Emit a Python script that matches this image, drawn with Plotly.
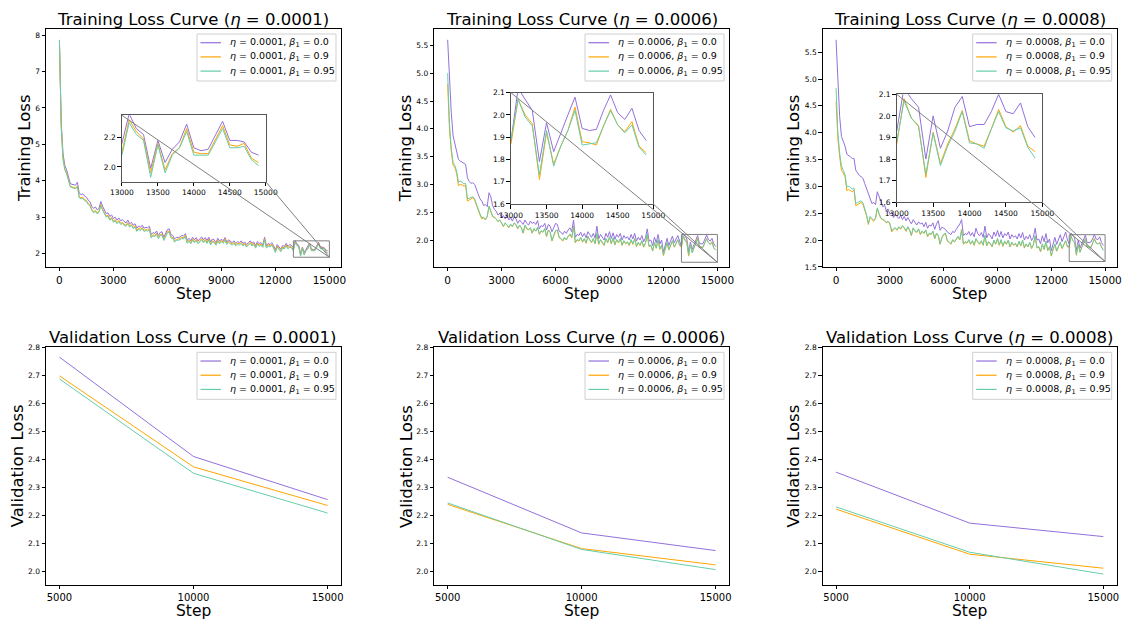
import plotly.graph_objects as go

# ---------------- data ----------------
steps = list(range(0, 15000, 100))
val_steps = [5000, 10000, 15000]
lrs = ["0.0001", "0.0006", "0.0008"]
betas = ["0.0", "0.9", "0.95"]
colors = ["#9370DB", "#FFA500", "#66CDAA"]

train_lr1_b00 = [
    7.83, 5.60, 4.75, 4.42, 4.30, 4.12, 3.93, 3.90, 3.90, 3.88,
    3.96, 3.66, 3.62, 3.64, 3.58, 3.55, 3.47, 3.42, 3.30, 3.24,
    3.28, 3.20, 3.24, 3.43, 3.30, 3.18, 3.10, 3.12, 3.02, 3.06,
    2.96, 3.00, 2.92, 2.98, 2.90, 2.93, 2.87, 2.84, 2.92, 2.82,
    2.86, 2.78, 2.82, 2.70, 2.76, 2.72, 2.78, 2.70, 2.72, 2.71,
    2.75, 2.52, 2.58, 2.55, 2.62, 2.50, 2.58, 2.60, 2.45, 2.55,
    2.66, 2.68, 2.52, 2.50, 2.40, 2.45, 2.44, 2.46, 2.50, 2.48,
    2.55, 2.36, 2.42, 2.35, 2.45, 2.38, 2.44, 2.35, 2.40, 2.46,
    2.38, 2.44, 2.36, 2.45, 2.32, 2.40, 2.38, 2.30, 2.42, 2.34,
    2.40, 2.35, 2.44, 2.32, 2.38, 2.34, 2.30, 2.35, 2.28, 2.33,
    2.30, 2.35, 2.28, 2.32, 2.25, 2.30, 2.35, 2.28, 2.32, 2.22,
    2.33, 2.27, 2.30, 2.24, 2.45, 2.22, 2.28, 2.25, 2.30, 2.22,
    2.10, 2.25, 2.18, 2.12, 2.22, 2.20, 2.28, 2.20, 2.25, 2.22,
    2.16, 2.36, 2.26, 2.22, 1.99, 2.18, 2.03, 2.12, 2.17, 2.29,
    2.13, 2.11, 2.12, 2.21, 2.31, 2.18, 2.18, 2.17, 2.10, 2.08,
]
train_lr1_b09 = [
    7.85, 5.50, 4.62, 4.33, 4.22, 4.05, 3.86, 3.83, 3.82, 3.80,
    3.86, 3.56, 3.53, 3.55, 3.48, 3.46, 3.38, 3.33, 3.22, 3.15,
    3.19, 3.12, 3.16, 3.35, 3.22, 3.10, 3.03, 3.05, 2.95, 2.99,
    2.89, 2.93, 2.85, 2.91, 2.83, 2.86, 2.80, 2.78, 2.85, 2.76,
    2.80, 2.72, 2.76, 2.64, 2.70, 2.66, 2.72, 2.64, 2.66, 2.65,
    2.69, 2.46, 2.52, 2.49, 2.56, 2.44, 2.52, 2.54, 2.39, 2.49,
    2.60, 2.62, 2.46, 2.44, 2.35, 2.39, 2.39, 2.41, 2.45, 2.43,
    2.50, 2.31, 2.37, 2.30, 2.40, 2.33, 2.39, 2.30, 2.35, 2.41,
    2.33, 2.39, 2.31, 2.40, 2.27, 2.35, 2.33, 2.26, 2.37, 2.30,
    2.36, 2.31, 2.40, 2.28, 2.34, 2.30, 2.26, 2.31, 2.24, 2.29,
    2.26, 2.31, 2.24, 2.28, 2.21, 2.26, 2.31, 2.24, 2.28, 2.18,
    2.29, 2.23, 2.26, 2.20, 2.41, 2.18, 2.24, 2.21, 2.26, 2.18,
    2.06, 2.21, 2.14, 2.08, 2.18, 2.16, 2.24, 2.16, 2.21, 2.18,
    2.10, 2.32, 2.24, 2.19, 1.96, 2.16, 1.98, 2.09, 2.13, 2.26,
    2.10, 2.09, 2.09, 2.18, 2.28, 2.15, 2.14, 2.16, 2.06, 2.03,
]
train_lr1_b095 = [
    7.87, 5.45, 4.58, 4.30, 4.19, 4.02, 3.84, 3.81, 3.80, 3.78,
    3.84, 3.53, 3.50, 3.52, 3.45, 3.43, 3.35, 3.30, 3.19, 3.12,
    3.16, 3.09, 3.13, 3.32, 3.19, 3.07, 3.00, 3.02, 2.92, 2.96,
    2.86, 2.90, 2.82, 2.88, 2.80, 2.83, 2.77, 2.75, 2.82, 2.73,
    2.77, 2.69, 2.73, 2.61, 2.67, 2.63, 2.69, 2.61, 2.63, 2.62,
    2.66, 2.43, 2.49, 2.46, 2.53, 2.41, 2.49, 2.51, 2.36, 2.46,
    2.57, 2.59, 2.43, 2.41, 2.32, 2.36, 2.36, 2.38, 2.42, 2.40,
    2.47, 2.28, 2.34, 2.27, 2.37, 2.30, 2.36, 2.27, 2.32, 2.38,
    2.30, 2.36, 2.28, 2.37, 2.24, 2.32, 2.30, 2.23, 2.34, 2.27,
    2.33, 2.28, 2.37, 2.25, 2.31, 2.27, 2.23, 2.28, 2.21, 2.26,
    2.23, 2.28, 2.21, 2.25, 2.18, 2.23, 2.28, 2.21, 2.25, 2.15,
    2.26, 2.20, 2.23, 2.17, 2.38, 2.15, 2.21, 2.18, 2.23, 2.15,
    2.03, 2.18, 2.11, 2.05, 2.15, 2.13, 2.21, 2.13, 2.18, 2.15,
    2.08, 2.30, 2.22, 2.18, 1.93, 2.15, 1.96, 2.08, 2.13, 2.24,
    2.08, 2.08, 2.08, 2.17, 2.26, 2.13, 2.13, 2.14, 2.05, 2.01,
]

train_lr6_b00 = [
    5.60, 4.90, 4.30, 3.88, 3.72, 3.58, 3.45, 3.42, 3.40, 3.38,
    3.36, 3.12, 3.05, 3.02, 3.03, 3.00, 2.90, 2.82, 2.74, 2.70,
    2.62, 2.64, 2.60, 2.85, 2.78, 2.62, 2.55, 2.52, 2.45, 2.48,
    2.40, 2.44, 2.38, 2.45, 2.36, 2.40, 2.34, 2.42, 2.38, 2.30,
    2.36, 2.32, 2.28, 2.36, 2.30, 2.27, 2.34, 2.30, 2.32, 2.28,
    2.35, 2.20, 2.26, 2.24, 2.30, 2.18, 2.28, 2.25, 2.15, 2.22,
    2.30, 2.28, 2.16, 2.14, 2.10, 2.16, 2.12, 2.18, 2.22, 2.15,
    2.36, 2.05, 2.10, 2.08, 2.14, 2.06, 2.12, 2.04, 2.15, 2.10,
    2.05, 2.12, 2.03, 2.25, 2.02, 2.10, 2.06, 2.00, 2.12, 2.05,
    2.15, 2.03, 2.13, 2.01, 2.10, 2.05, 2.12, 2.00, 2.08, 2.03,
    2.06, 2.00, 2.10, 2.02, 2.12, 1.98, 2.05, 2.00, 2.08, 1.97,
    2.04, 2.20, 1.98, 2.00, 1.90, 2.05, 1.95, 2.10, 1.93, 2.00,
    1.78, 1.92, 2.03, 1.90, 1.98, 2.07, 1.95, 2.03, 2.08, 1.98,
    1.88, 2.12, 2.07, 2.02, 1.79, 1.965, 1.835, 1.92, 2.00, 2.08,
    1.94, 1.93, 1.935, 2.02, 2.09, 2.01, 1.98, 2.03, 1.93, 1.885,
]
train_lr6_b09 = [
    4.80, 4.00, 3.60, 3.35, 3.30, 3.20, 2.98, 3.00, 2.99, 2.97,
    2.98, 2.70, 2.72, 2.74, 2.76, 2.72, 2.62, 2.52, 2.45, 2.38,
    2.40, 2.36, 2.42, 2.60, 2.50, 2.42, 2.40, 2.38, 2.33, 2.36,
    2.30, 2.24, 2.30, 2.27, 2.22, 2.28, 2.24, 2.30, 2.27, 2.20,
    2.26, 2.22, 2.12, 2.26, 2.20, 2.18, 2.22, 2.12, 2.20, 2.16,
    2.22, 2.10, 2.16, 2.14, 2.20, 2.06, 2.18, 2.14, 1.98, 2.08,
    2.16, 2.18, 2.04, 2.02, 1.98, 2.04, 2.00, 2.06, 2.10, 2.04,
    2.25, 1.95, 2.00, 1.98, 2.04, 1.96, 2.02, 1.94, 2.06, 2.00,
    1.95, 2.02, 1.93, 2.12, 1.92, 2.00, 1.96, 1.90, 2.02, 1.95,
    2.05, 1.93, 2.03, 1.91, 2.00, 1.95, 2.02, 1.90, 1.98, 1.93,
    1.96, 1.90, 2.00, 1.92, 2.02, 1.88, 1.95, 1.90, 1.98, 1.87,
    1.94, 2.10, 1.88, 1.90, 1.80, 1.95, 1.85, 2.00, 1.83, 1.90,
    1.72, 1.84, 1.95, 1.82, 1.90, 1.98, 1.87, 1.95, 2.00, 1.90,
    1.87, 2.07, 2.00, 1.96, 1.71, 1.92, 1.78, 1.86, 1.93, 2.035,
    1.88, 1.875, 1.865, 1.95, 2.025, 1.955, 1.925, 1.97, 1.86, 1.83,
]
train_lr6_b095 = [
    5.00, 4.10, 3.65, 3.40, 3.34, 3.24, 3.04, 3.06, 3.04, 3.01,
    3.02, 2.74, 2.75, 2.77, 2.78, 2.74, 2.64, 2.54, 2.47, 2.40,
    2.41, 2.37, 2.43, 2.61, 2.51, 2.43, 2.41, 2.38, 2.33, 2.36,
    2.31, 2.25, 2.31, 2.27, 2.23, 2.29, 2.24, 2.31, 2.28, 2.21,
    2.27, 2.22, 2.13, 2.27, 2.21, 2.19, 2.22, 2.13, 2.21, 2.16,
    2.23, 2.11, 2.17, 2.14, 2.21, 2.07, 2.18, 2.15, 1.99, 2.09,
    2.17, 2.18, 2.05, 2.03, 1.99, 2.05, 2.00, 2.07, 2.11, 2.05,
    2.24, 1.96, 2.01, 1.99, 2.05, 1.97, 2.03, 1.95, 2.07, 2.01,
    1.96, 2.03, 1.94, 2.13, 1.93, 2.01, 1.97, 1.91, 2.03, 1.96,
    2.06, 1.94, 2.04, 1.92, 2.01, 1.96, 2.03, 1.91, 1.99, 1.94,
    1.97, 1.91, 2.01, 1.93, 2.03, 1.89, 1.96, 1.91, 1.99, 1.88,
    1.95, 2.11, 1.89, 1.91, 1.81, 1.96, 1.86, 2.01, 1.84, 1.91,
    1.73, 1.85, 1.96, 1.83, 1.91, 1.99, 1.88, 1.96, 2.01, 1.91,
    1.89, 2.07, 1.99, 1.95, 1.73, 1.93, 1.77, 1.86, 1.93, 2.02,
    1.865, 1.87, 1.875, 1.95, 2.02, 1.955, 1.92, 1.955, 1.855, 1.82,
]

train_lr8_b00 = [
    5.73, 4.95, 4.30, 3.93, 3.85, 3.75, 3.60, 3.58, 3.55, 3.52,
    3.52, 3.30, 3.25, 3.20, 3.18, 3.15, 3.05, 2.95, 2.85, 2.75,
    2.68, 2.70, 2.66, 2.90, 2.82, 2.72, 2.62, 2.65, 2.55, 2.58,
    2.48, 2.52, 2.42, 2.48, 2.44, 2.40, 2.46, 2.38, 2.44, 2.36,
    2.42, 2.35, 2.30, 2.38, 2.32, 2.28, 2.34, 2.30, 2.32, 2.25,
    2.33, 2.22, 2.28, 2.26, 2.32, 2.20, 2.30, 2.36, 2.18, 2.24,
    2.22, 2.20, 2.15, 2.12, 2.10, 2.16, 2.14, 2.20, 2.24, 2.30,
    2.38, 2.08, 2.12, 2.10, 2.16, 2.08, 2.14, 2.06, 2.22, 2.12,
    2.08, 2.14, 2.05, 2.26, 2.04, 2.12, 2.08, 2.02, 2.15, 2.07,
    2.18, 2.06, 2.16, 2.04, 2.12, 2.08, 2.15, 2.02, 2.10, 2.05,
    2.08, 2.02, 2.12, 2.04, 2.14, 2.00, 2.07, 2.02, 2.10, 1.99,
    2.05, 2.22, 2.00, 2.02, 1.93, 2.08, 1.97, 2.12, 1.95, 2.02,
    1.80, 1.95, 2.05, 1.92, 2.00, 2.10, 1.97, 2.05, 2.15, 2.00,
    1.93, 2.13, 2.08, 2.04, 1.80, 2.00, 1.85, 1.93, 2.04, 2.09,
    1.95, 1.96, 1.96, 2.02, 2.10, 2.02, 2.01, 2.06, 1.95, 1.90,
]
train_lr8_b09 = [
    4.58, 3.90, 3.55, 3.30, 3.25, 3.18, 2.92, 2.94, 2.92, 2.90,
    2.93, 2.64, 2.66, 2.68, 2.70, 2.66, 2.55, 2.45, 2.29, 2.42,
    2.38, 2.35, 2.40, 2.58, 2.48, 2.40, 2.38, 2.36, 2.32, 2.34,
    2.30, 2.15, 2.20, 2.22, 2.18, 2.24, 2.20, 2.26, 2.22, 2.16,
    2.24, 2.18, 2.08, 2.22, 2.16, 2.14, 2.20, 2.10, 2.16, 2.12,
    2.18, 2.06, 2.12, 2.10, 2.16, 2.02, 2.12, 2.08, 1.92, 2.04,
    2.10, 2.12, 1.98, 1.96, 1.92, 2.00, 1.96, 2.02, 2.06, 2.00,
    2.20, 1.92, 1.96, 1.94, 2.00, 1.92, 1.98, 1.90, 2.02, 1.96,
    1.92, 1.98, 1.90, 2.08, 1.89, 1.96, 1.93, 1.87, 1.99, 1.92,
    2.02, 1.90, 2.00, 1.88, 1.97, 1.92, 1.99, 1.87, 1.95, 1.90,
    1.93, 1.87, 1.97, 1.89, 1.99, 1.85, 1.92, 1.87, 1.95, 1.84,
    1.91, 2.07, 1.85, 1.87, 1.78, 1.92, 1.82, 1.97, 1.80, 1.87,
    1.70, 1.82, 1.92, 1.79, 1.87, 1.95, 1.84, 1.92, 1.98, 1.87,
    1.87, 2.08, 1.99, 1.955, 1.715, 1.925, 1.78, 1.87, 1.94, 2.025,
    1.885, 1.87, 1.86, 1.94, 2.03, 1.95, 1.925, 1.955, 1.86, 1.835,
]
train_lr8_b095 = [
    4.83, 4.00, 3.62, 3.38, 3.30, 3.22, 2.99, 3.00, 2.98, 2.95,
    2.97, 2.68, 2.70, 2.71, 2.73, 2.69, 2.58, 2.47, 2.31, 2.44,
    2.40, 2.37, 2.41, 2.60, 2.49, 2.41, 2.39, 2.37, 2.33, 2.35,
    2.31, 2.17, 2.21, 2.23, 2.19, 2.25, 2.21, 2.27, 2.23, 2.17,
    2.25, 2.19, 2.09, 2.23, 2.17, 2.15, 2.21, 2.11, 2.17, 2.13,
    2.19, 2.07, 2.13, 2.11, 2.17, 2.03, 2.13, 2.09, 1.93, 2.05,
    2.11, 2.13, 1.99, 1.97, 1.93, 2.01, 1.97, 2.03, 2.07, 2.01,
    2.19, 1.93, 1.97, 1.95, 2.01, 1.93, 1.99, 1.91, 2.03, 1.97,
    1.93, 1.99, 1.91, 2.09, 1.90, 1.97, 1.94, 1.88, 2.00, 1.93,
    2.03, 1.91, 2.01, 1.89, 1.98, 1.93, 2.00, 1.88, 1.96, 1.91,
    1.94, 1.88, 1.98, 1.90, 2.00, 1.86, 1.93, 1.88, 1.96, 1.85,
    1.92, 2.08, 1.86, 1.88, 1.79, 1.93, 1.83, 1.98, 1.81, 1.88,
    1.71, 1.83, 1.93, 1.80, 1.88, 1.96, 1.85, 1.93, 1.99, 1.88,
    1.88, 2.07, 1.99, 1.95, 1.73, 1.92, 1.77, 1.86, 1.93, 2.02,
    1.875, 1.87, 1.85, 1.94, 2.02, 1.945, 1.93, 1.945, 1.855, 1.805,
]

val_lr1_b00 = [2.765, 2.410, 2.256]
val_lr1_b09 = [2.698, 2.373, 2.235]
val_lr1_b095 = [2.687, 2.350, 2.208]
val_lr6_b00 = [2.336, 2.137, 2.074]
val_lr6_b09 = [2.239, 2.081, 2.023]
val_lr6_b095 = [2.244, 2.078, 2.006]
val_lr8_b00 = [2.354, 2.172, 2.124]
val_lr8_b09 = [2.222, 2.061, 2.011]
val_lr8_b095 = [2.230, 2.068, 1.990]

train = [
    [train_lr1_b00, train_lr1_b09, train_lr1_b095],
    [train_lr6_b00, train_lr6_b09, train_lr6_b095],
    [train_lr8_b00, train_lr8_b09, train_lr8_b095],
]
val = [
    [val_lr1_b00, val_lr1_b09, val_lr1_b095],
    [val_lr6_b00, val_lr6_b09, val_lr6_b095],
    [val_lr8_b00, val_lr8_b09, val_lr8_b095],
]
for grp in train:
    for s in grp:
        assert len(s) == len(steps), len(s)

inset_xlim = [13000, 15000]
inset_ylims = [[1.9, 2.35], [1.6, 2.1], [1.6, 2.1]]
inset_yticks = [[2.0, 2.2], [1.6, 1.7, 1.8, 1.9, 2.0, 2.1], [1.6, 1.7, 1.8, 1.9, 2.0, 2.1]]
main_yticks = [[2, 3, 4, 5, 6, 7, 8],
               [2.0, 2.5, 3.0, 3.5, 4.0, 4.5, 5.0, 5.5],
               [1.5, 2.0, 2.5, 3.0, 3.5, 4.0, 4.5, 5.0, 5.5]]
main_ytickfmt = ["d", ".1f", ".1f"]

# ---------------- layout geometry ----------------
W, H = 1125, 620
FONT = "DejaVu Sans"
col_x = [[0.0409, 0.3031], [0.3860, 0.6480], [0.7313, 0.9926]]
top_y = [0.5694, 0.9532]
bot_y = [0.0560, 0.4398]
inset_x = [[0.1084, 0.2362], [0.4542, 0.5807], [0.7971, 0.9265]]
inset_y = [[0.7069, 0.8140], [0.6710, 0.8505], [0.6737, 0.8479]]
ylab_off_top = [21, 28, 28.5]
ylab_off_bot = [29, 27.6, 29.4]
LEG_W, LEG_H, LEG_PAD = 139, 47, 5
LEG_ROWS = [8.7, 22.9, 37.1]


def margin_range(lo, hi, frac=0.05):
    d = hi - lo
    return [lo - frac * d, hi + frac * d]


def to_paper(v, rng, dom):
    return dom[0] + (v - rng[0]) / (rng[1] - rng[0]) * (dom[1] - dom[0])


fig = go.Figure()

axis_common = dict(showline=True, mirror=True, linecolor="black", linewidth=1,
                   ticks="outside", ticklen=3.5, tickwidth=0.8, tickcolor="black",
                   showgrid=False, zeroline=False, automargin=False)

layout = dict(width=W, height=H, margin=dict(l=0, r=0, t=0, b=0, pad=0, autoexpand=False),
              paper_bgcolor="white", plot_bgcolor="white", showlegend=False,
              font=dict(family=FONT, color="black"))
annotations = []
shapes = []


def add_legend(dom_x, dom_y, lr):
    """Matplotlib-like legend box in the upper right corner of an axes."""
    right = dom_x[1] * W - LEG_PAD
    top = (1 - dom_y[1]) * H + LEG_PAD
    left = right - LEG_W
    shapes.append(dict(type="rect", xref="paper", yref="paper",
                       x0=left / W, x1=right / W,
                       y0=1 - (top + LEG_H) / H, y1=1 - top / H,
                       line=dict(color="#d0d0d0", width=1),
                       fillcolor="rgba(255,255,255,0.8)", layer="above"))
    for j, row in enumerate(LEG_ROWS):
        yy = 1 - (top + row) / H
        shapes.append(dict(type="line", xref="paper", yref="paper",
                           x0=(left + 3.5) / W, x1=(left + 24) / W, y0=yy, y1=yy,
                           line=dict(color=colors[j], width=1.2), layer="above"))
        annotations.append(dict(text=f"<i>η</i> = {lr}, <i>β</i><sub>1</sub> = {betas[j]}",
                                x=(left + 31) / W, y=yy, xref="paper", yref="paper",
                                xanchor="left", yanchor="middle", showarrow=False,
                                font=dict(size=9.5)))


for i in range(3):
    # ----- main training axes -----
    xa = f"x{i + 1}" if i else "x"
    ya = f"y{i + 1}" if i else "y"
    xr = margin_range(steps[0], steps[-1])
    allv = [v for s in train[i] for v in s]
    yr = margin_range(min(allv), max(allv))
    layout[f"xaxis{i + 1 if i else ''}"] = dict(
        domain=col_x[i], anchor=ya, range=xr,
        tickvals=[0, 3000, 6000, 9000, 12000, 15000], tickformat="d",
        tickfont=dict(size=10.5), **axis_common)
    layout[f"yaxis{i + 1 if i else ''}"] = dict(
        domain=top_y, anchor=xa, range=yr, tickvals=main_yticks[i],
        tickformat=main_ytickfmt[i], tickfont=dict(size=7.5), **axis_common)
    for j in range(3):
        fig.add_trace(go.Scatter(
            x=steps, y=train[i][j], mode="lines", xaxis=xa, yaxis=ya,
            line=dict(color=colors[j], width=1),
            name=f"η = {lrs[i]}, β1 = {betas[j]}"))

    # ----- validation axes -----
    k = i + 4
    xb, yb = f"x{k}", f"y{k}"
    layout[f"xaxis{k}"] = dict(domain=col_x[i], anchor=yb,
                               range=margin_range(val_steps[0], val_steps[-1]),
                               tickvals=val_steps, tickformat="d",
                               tickfont=dict(size=10), **{**axis_common, "ticklen": 3})
    layout[f"yaxis{k}"] = dict(domain=bot_y, anchor=xb, range=[1.95, 2.8],
                               tickvals=[2.0, 2.1, 2.2, 2.3, 2.4, 2.5, 2.6, 2.7, 2.8],
                               tickformat=".1f", tickfont=dict(size=7.5), **axis_common)
    for j in range(3):
        fig.add_trace(go.Scatter(
            x=val_steps, y=val[i][j], mode="lines", xaxis=xb, yaxis=yb,
            line=dict(color=colors[j], width=1),
            name=f"η = {lrs[i]}, β1 = {betas[j]}"))

    # ----- inset axes -----
    m = i + 7
    xc, yc = f"x{m}", f"y{m}"
    inset_axis = {**axis_common, "linecolor": "#555555", "linewidth": 1.3}
    layout[f"xaxis{m}"] = dict(domain=inset_x[i], anchor=yc, range=inset_xlim,
                               tickvals=[13000, 13500, 14000, 14500, 15000],
                               tickformat="d", tickfont=dict(size=7.5), **inset_axis)
    layout[f"yaxis{m}"] = dict(domain=inset_y[i], anchor=xc, range=inset_ylims[i],
                               tickvals=inset_yticks[i], tickformat=".1f",
                               tickfont=dict(size=7.5), **inset_axis)
    for j in range(3):
        fig.add_trace(go.Scatter(
            x=steps, y=train[i][j], mode="lines", xaxis=xc, yaxis=yc,
            line=dict(color=colors[j], width=1), hoverinfo="skip"))

    # zoom rectangle + connector lines
    shapes.append(dict(type="rect", xref=xa, yref=ya,
                       x0=inset_xlim[0], x1=inset_xlim[1],
                       y0=inset_ylims[i][0], y1=inset_ylims[i][1],
                       line=dict(color="#808080", width=1), fillcolor="rgba(0,0,0,0)"))
    rx = to_paper(inset_xlim[1], xr, col_x[i])
    ry = to_paper(inset_ylims[i][0], yr, top_y)
    for cx, cy in [(inset_x[i][0], inset_y[i][1]), (inset_x[i][1], inset_y[i][0])]:
        shapes.append(dict(type="line", xref="paper", yref="paper",
                           x0=cx, y0=cy, x1=rx, y1=ry,
                           line=dict(color="#808080", width=1)))

    # legends
    add_legend(col_x[i], top_y, lrs[i])
    add_legend(col_x[i], bot_y, lrs[i])

    # ----- titles and axis labels -----
    cxm = (col_x[i][0] + col_x[i][1]) / 2
    annotations.append(dict(text=f"Training Loss Curve (<i>η</i> = {lrs[i]})",
                            x=cxm, y=top_y[1], xref="paper", yref="paper",
                            xanchor="center", yanchor="middle", yshift=10,
                            showarrow=False, font=dict(size=16.5)))
    annotations.append(dict(text=f"Validation Loss Curve (<i>η</i> = {lrs[i]})",
                            x=cxm, y=bot_y[1], xref="paper", yref="paper",
                            xanchor="center", yanchor="middle", yshift=10,
                            showarrow=False, font=dict(size=16.5)))
    for dom_y, lab, off, sshift in [(top_y, "Training Loss", ylab_off_top[i], -27),
                                    (bot_y, "Validation Loss", ylab_off_bot[i], -25.3)]:
        annotations.append(dict(text=lab, x=col_x[i][0], y=(dom_y[0] + dom_y[1]) / 2,
                                xref="paper", yref="paper", xanchor="center",
                                yanchor="middle", xshift=-off, textangle=-90,
                                showarrow=False, font=dict(size=16.5)))
        annotations.append(dict(text="Step", x=cxm, y=dom_y[0], xref="paper", yref="paper",
                                xanchor="center", yanchor="middle", yshift=sshift,
                                borderpad=0, showarrow=False, font=dict(size=15.5)))

layout["annotations"] = annotations
layout["shapes"] = shapes
fig.update_layout(**layout)
fig.write_html("out.html", post_script="document.body.style.margin='0px';")
